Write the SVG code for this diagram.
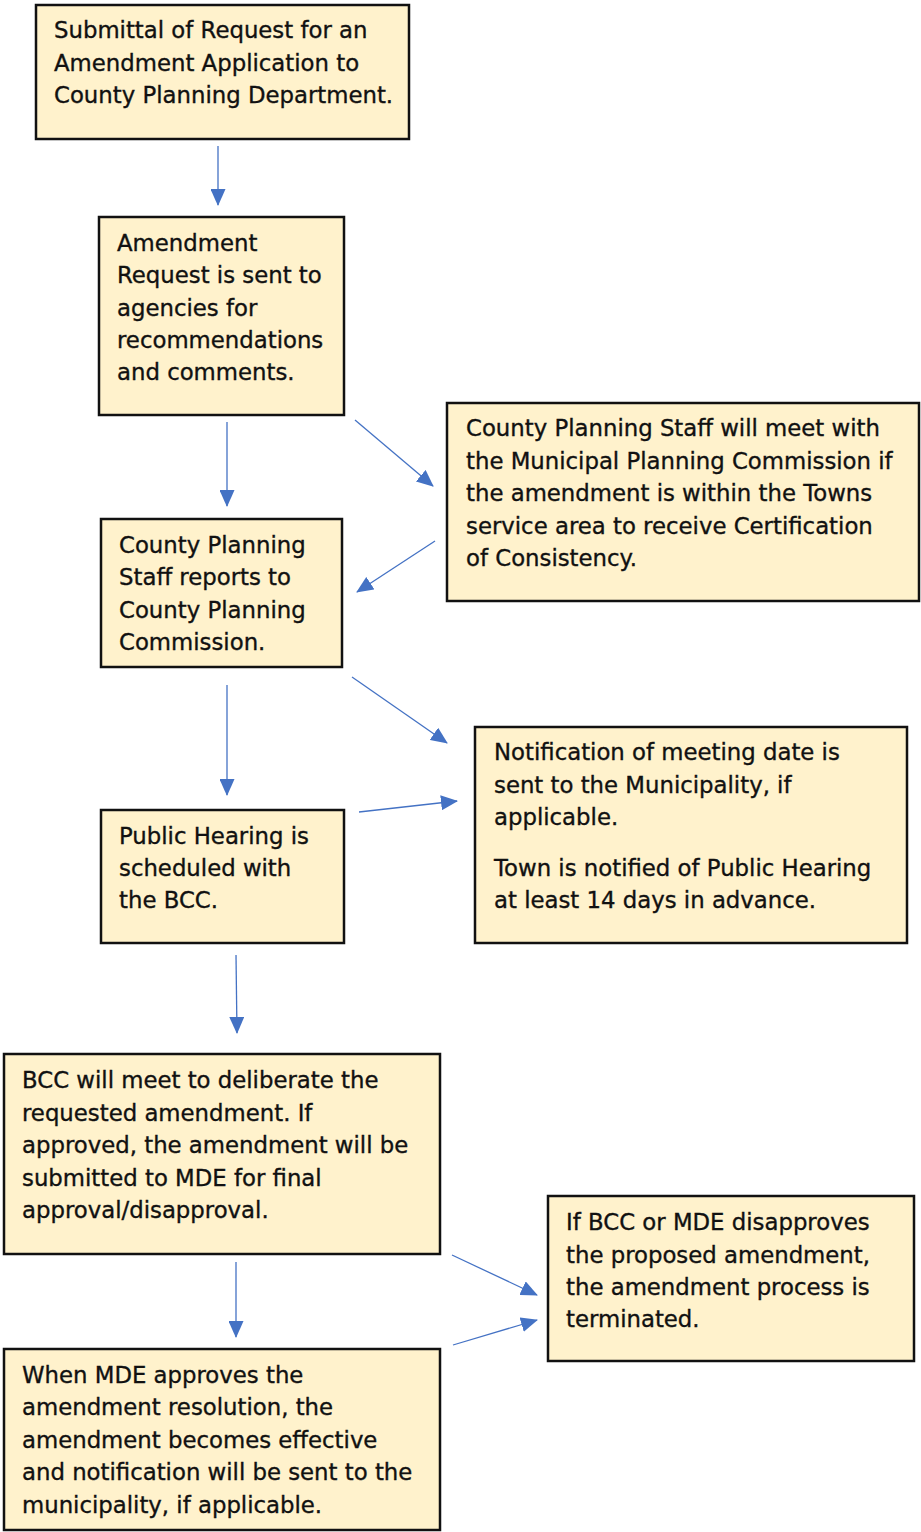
<svg xmlns="http://www.w3.org/2000/svg" width="921" height="1532" viewBox="0 0 921 1532">
<style>
.box{fill:#FFF2CC;stroke:#111;stroke-width:2.5}
.t{font-family:"DejaVu Sans",sans-serif;font-size:22.8px;fill:#111;stroke:#111;stroke-width:0.35}
.c{stroke:#4472C4;stroke-width:1.3;fill:none;marker-end:url(#ah)}
</style>
<defs>
<marker id="ah" markerUnits="userSpaceOnUse" markerWidth="17" markerHeight="15" refX="16" refY="7.5" orient="auto">
<path d="M0,0 L17,7.5 L0,15 Z" fill="#4472C4"/>
</marker>
</defs>
<rect width="921" height="1532" fill="#fff"/>
<g id="n1"><rect class="box" x="36" y="5" width="373" height="134"/>
<text class="t" x="54" y="38">Submittal of Request for an</text>
<text class="t" x="54" y="71">Amendment Application to</text>
<text class="t" x="54" y="103">County Planning Department.</text></g>
<g id="n2"><rect class="box" x="99" y="217" width="245" height="198"/>
<text class="t" x="117" y="251">Amendment</text>
<text class="t" x="117" y="283">Request is sent to</text>
<text class="t" x="117" y="316">agencies for</text>
<text class="t" x="117" y="348">recommendations</text>
<text class="t" x="117" y="380">and comments.</text></g>
<g id="n3"><rect class="box" x="447" y="403" width="472" height="198"/>
<text class="t" x="466" y="436">County Planning Staff will meet with</text>
<text class="t" x="466" y="469">the Municipal Planning Commission if</text>
<text class="t" x="466" y="501">the amendment is within the Towns</text>
<text class="t" x="466" y="534">service area to receive Certification</text>
<text class="t" x="466" y="566">of Consistency.</text></g>
<g id="n4"><rect class="box" x="101" y="519" width="241" height="148"/>
<text class="t" x="119" y="553">County Planning</text>
<text class="t" x="119" y="585">Staff reports to</text>
<text class="t" x="119" y="618">County Planning</text>
<text class="t" x="119" y="650">Commission.</text></g>
<g id="n5"><rect class="box" x="475" y="727" width="432" height="216"/>
<text class="t" x="494" y="760">Notification of meeting date is</text>
<text class="t" x="494" y="793">sent to the Municipality, if</text>
<text class="t" x="494" y="825">applicable.</text>
<text class="t" x="494" y="876">Town is notified of Public Hearing</text>
<text class="t" x="494" y="908">at least 14 days in advance.</text></g>
<g id="n6"><rect class="box" x="101" y="810" width="243" height="133"/>
<text class="t" x="119" y="844">Public Hearing is</text>
<text class="t" x="119" y="876">scheduled with</text>
<text class="t" x="119" y="908">the BCC.</text></g>
<g id="n7"><rect class="box" x="4" y="1054" width="436" height="200"/>
<text class="t" x="22" y="1088">BCC will meet to deliberate the</text>
<text class="t" x="22" y="1121">requested amendment. If</text>
<text class="t" x="22" y="1153">approved, the amendment will be</text>
<text class="t" x="22" y="1186">submitted to MDE for final</text>
<text class="t" x="22" y="1218">approval/disapproval.</text></g>
<g id="n8"><rect class="box" x="548" y="1196" width="366" height="165"/>
<text class="t" x="566" y="1230">If BCC or MDE disapproves</text>
<text class="t" x="566" y="1263">the proposed amendment,</text>
<text class="t" x="566" y="1295">the amendment process is</text>
<text class="t" x="566" y="1327">terminated.</text></g>
<g id="n9"><rect class="box" x="4" y="1349" width="436" height="181"/>
<text class="t" x="22" y="1383">When MDE approves the</text>
<text class="t" x="22" y="1415">amendment resolution, the</text>
<text class="t" x="22" y="1448">amendment becomes effective</text>
<text class="t" x="22" y="1480">and notification will be sent to the</text>
<text class="t" x="22" y="1513">municipality, if applicable.</text></g>
<g id="connectors">
<line class="c" x1="218" y1="146" x2="218" y2="205"/>
<line class="c" x1="227" y1="422" x2="227" y2="506"/>
<line class="c" x1="355" y1="420" x2="433" y2="486"/>
<line class="c" x1="435" y1="541" x2="357" y2="592"/>
<line class="c" x1="227" y1="685" x2="227" y2="795"/>
<line class="c" x1="352" y1="677" x2="447" y2="743"/>
<line class="c" x1="359" y1="812" x2="457" y2="801"/>
<line class="c" x1="236" y1="955" x2="237" y2="1033"/>
<line class="c" x1="236" y1="1262" x2="236" y2="1337"/>
<line class="c" x1="452" y1="1255" x2="537" y2="1295"/>
<line class="c" x1="453" y1="1345" x2="537" y2="1320"/>
</g>
</svg>
